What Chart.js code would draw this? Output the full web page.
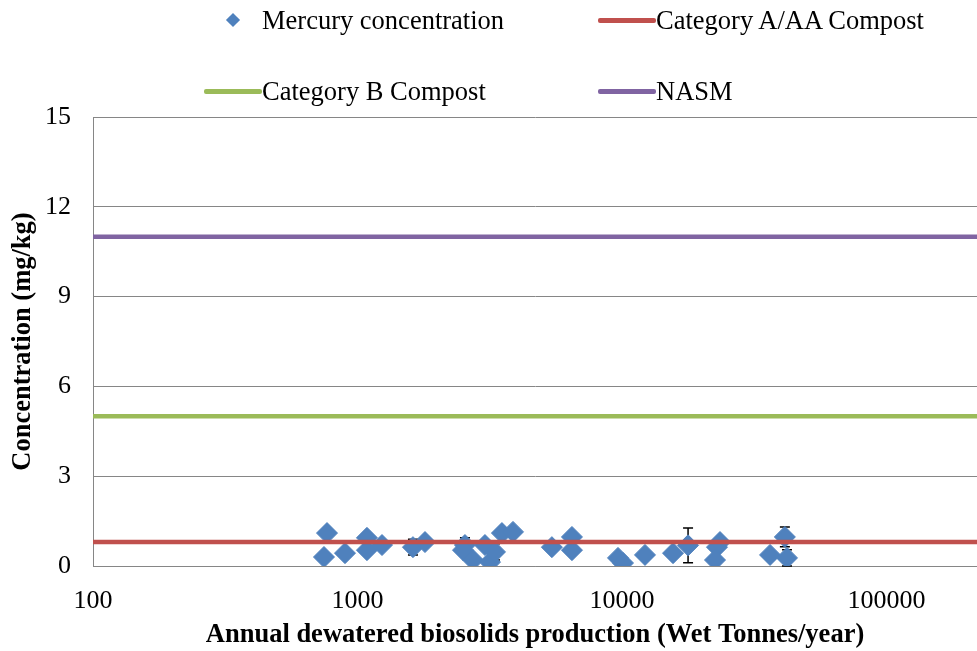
<!DOCTYPE html>
<html>
<head>
<meta charset="utf-8">
<title>Mercury concentration vs biosolids production</title>
<script src="https://cdn.jsdelivr.net/npm/chart.js@4"></script>
<style>
  body { margin: 0; background: #fff; }
  #wrap { position: relative; width: 977px; height: 651px; }
  #legend { position: absolute; left: 0; top: 0; width: 977px; height: 110px;
            font-family: "Liberation Serif", "Times New Roman", serif; font-size: 26.5px; color: #000; }
  .item { position: absolute; display: flex; align-items: center; height: 30px; white-space: nowrap; }
  .sym { width: 58px; height: 30px; position: relative; }
  .sym .ln { position: absolute; left: 0; right: 0; top: 13px; height: 5px; border-radius: 2px; }
  .sym .dm { position: absolute; left: 24px; top: 10px; width: 10px; height: 10px; transform: rotate(45deg); }
</style>
</head>
<body>
<div id="wrap">
  <canvas id="chart"></canvas>
  <div id="legend"></div>
</div>
<script>
'use strict'

// ---- Daten ----
const seriesName = 'Mercury concentration';
const seriesColor = '#4F81BD';

// jährliche Produktion (Wet Tonnes/year)
const xProduction = [767, 747, 897, 1086, 1086, 1238, 1621, 1800, 2549, 2506,
                     2734, 3034, 3170, 3311, 3517, 3873, 5433, 6471, 6471, 9660,
                     10090, 12220, 15600, 17780, 22870, 22480, 23480, 36300, 41300, 42070];
// Konzentration (mg/kg)
const yMercury = [1.10, 0.30, 0.43, 0.94, 0.53, 0.70, 0.63, 0.80, 0.70, 0.53,
                  0.20, 0.70, 0.13, 0.47, 1.10, 1.14, 0.63, 0.97, 0.53, 0.27,
                  0.10, 0.37, 0.43, 0.69, 0.63, 0.20, 0.80, 0.37, 0.97, 0.27];
// Fehlerbalken (+/-), 0 = keiner
const errMercury = [0, 0, 0, 0, 0, 0, 0.26, 0, 0.24, 0,
                    0, 0, 0, 0.27, 0, 0, 0, 0, 0, 0,
                    0, 0, 0, 0.58, 0, 0, 0, 0, 0.33, 0.27];

const limitNames = ['Category A/AA Compost', 'Category B Compost', 'NASM'];
const limitValues = [0.8, 5, 11];
const limitColors = ['#C0504D', '#9BBB59', '#8064A2'];

const xTickValues = [100, 1000, 10000, 100000];
const xAxisMin = 100;
const xAxisMax = 220000;
const yTickStep = 3;
const yAxisMax = 15;

const FONT = '"Liberation Serif", "Times New Roman", serif';

// ---- Datasets ----
const mercuryData = xProduction.map((x, i) => ({ x: x, y: yMercury[i] }));

const datasets = [{
  label: seriesName,
  type: 'scatter',
  data: mercuryData,
  pointStyle: 'rectRot',
  pointRadius: 10.5,
  pointHoverRadius: 10.5,
  backgroundColor: seriesColor,
  borderColor: seriesColor,
  borderWidth: 1,
  order: 2
}];

limitNames.forEach((name, i) => {
  datasets.push({
    label: name,
    type: 'line',
    data: [{ x: xAxisMin, y: limitValues[i] }, { x: xAxisMax, y: limitValues[i] }],
    borderColor: limitColors[i],
    backgroundColor: limitColors[i],
    borderWidth: 4.5,
    pointRadius: 0,
    fill: false,
    order: 1
  });
});

// ---- Fehlerbalken-Plugin ----
const errorBars = {
  id: 'errorBars',
  beforeDatasetsDraw(chart) {
    const xs = chart.scales.x, ys = chart.scales.y, ctx = chart.ctx;
    ctx.save();
    ctx.strokeStyle = '#000';
    ctx.lineWidth = 1.5;
    xProduction.forEach((x, i) => {
      const e = errMercury[i];
      if (!e) return;
      const px = xs.getPixelForValue(x);
      const top = ys.getPixelForValue(yMercury[i] + e);
      const bot = ys.getPixelForValue(Math.max(yMercury[i] - e, 0));
      ctx.beginPath();
      ctx.moveTo(px, top); ctx.lineTo(px, bot);
      ctx.moveTo(px - 5, top); ctx.lineTo(px + 5, top);
      ctx.moveTo(px - 5, bot); ctx.lineTo(px + 5, bot);
      ctx.stroke();
    });
    ctx.restore();
  }
};

new Chart(document.getElementById('chart'), {
  type: 'scatter',
  data: { datasets: datasets },
  plugins: [errorBars],
  options: {
    responsive: true,
    maintainAspectRatio: false,
    animation: false,
    layout: { autoPadding: false, padding: { top: 117, right: 0, left: 0, bottom: 0 } },
    plugins: {
      legend: { display: false },
      tooltip: { enabled: false }
    },
    scales: {
      x: {
        type: 'logarithmic',
        min: xAxisMin,
        max: xAxisMax,
        afterBuildTicks: scale => { scale.ticks = xTickValues.map(v => ({ value: v })); },
        afterFit: scale => {
          scale.height = 85;
          scale.paddingLeft = 0;
          scale.paddingRight = 0;
        },
        grid: { display: false, drawTicks: false },
        border: { display: true, color: '#868686', width: 1 },
        ticks: {
          color: '#000',
          font: { family: FONT, size: 26 },
          padding: 20,
          maxRotation: 0,
          autoSkip: false,
          callback: v => String(v)
        },
        title: {
          display: true,
          text: 'Annual dewatered biosolids production (Wet Tonnes/year)',
          color: '#000',
          font: { family: FONT, size: 26.5, weight: 'bold' },
          padding: { top: 4, bottom: 0 }
        }
      },
      y: {
        min: 0,
        max: yAxisMax,
        afterFit: scale => { scale.width = 93; },
        grid: { color: '#868686', lineWidth: 1, drawTicks: false },
        border: { display: true, color: '#868686', width: 1 },
        ticks: {
          stepSize: yTickStep,
          color: '#000',
          font: { family: FONT, size: 26 },
          padding: 22
        },
        title: {
          display: true,
          text: 'Concentration (mg/kg)',
          color: '#000',
          font: { family: FONT, size: 26.5, weight: 'bold' },
          padding: { top: 7, bottom: 0 }
        }
      }
    }
  }
});

// ---- HTML-Legende ----
const legendItems = [
  { text: seriesName, color: seriesColor, marker: true, left: 204, top: 5 },
  { text: limitNames[0], color: limitColors[0], marker: false, left: 598, top: 5 },
  { text: limitNames[1], color: limitColors[1], marker: false, left: 204, top: 76 },
  { text: limitNames[2], color: limitColors[2], marker: false, left: 598, top: 76 }
];

const legendBox = document.getElementById('legend');
legendItems.forEach(it => {
  const div = document.createElement('div');
  div.className = 'item';
  div.style.left = it.left + 'px';
  div.style.top = it.top + 'px';
  const sym = document.createElement('span');
  sym.className = 'sym';
  const mark = document.createElement('span');
  mark.className = it.marker ? 'dm' : 'ln';
  mark.style.background = it.color;
  sym.appendChild(mark);
  const txt = document.createElement('span');
  txt.textContent = it.text;
  div.appendChild(sym);
  div.appendChild(txt);
  legendBox.appendChild(div);
});
</script>
</body>
</html>
